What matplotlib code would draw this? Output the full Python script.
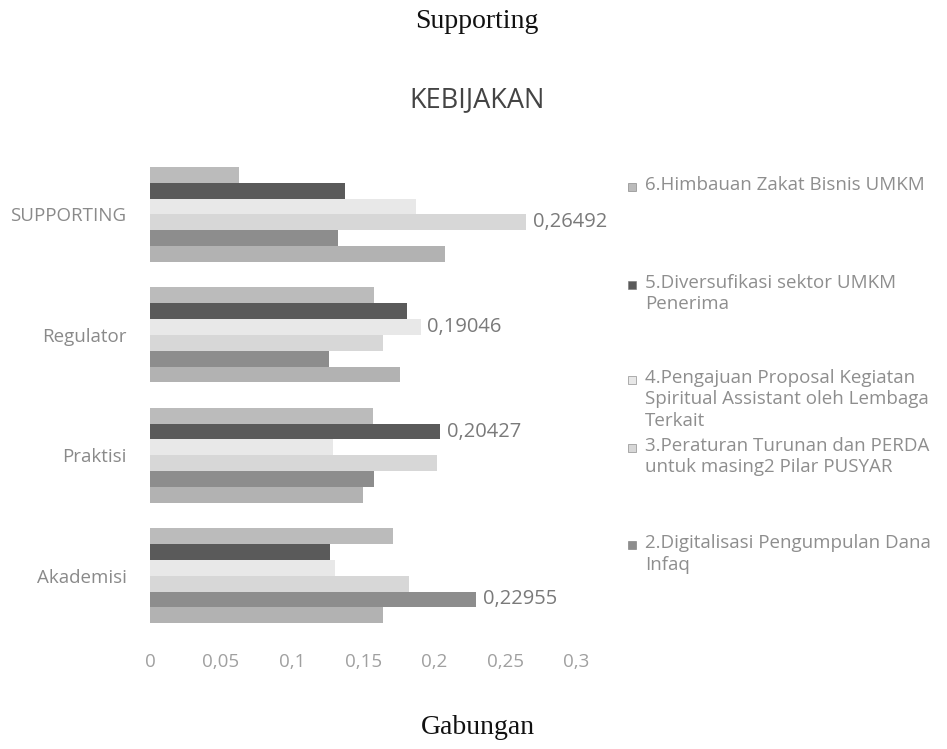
#!/usr/bin/env python3
"""Grouped horizontal bar chart of KEBIJAKAN scores per stakeholder group."""
import numpy as np
import matplotlib
matplotlib.use("Agg")
import matplotlib.pyplot as plt
from matplotlib.patches import Rectangle

# stakeholder groups, bottom to top
categories = ["Akademisi", "Praktisi", "Regulator", "SUPPORTING"]

# one list per policy item, values in category order
s1 = [0.164, 0.150, 0.176, 0.208]
s2 = [0.22955, 0.158, 0.126, 0.132]
s3 = [0.182, 0.202, 0.164, 0.26492]
s4 = [0.130, 0.129, 0.19046, 0.187]
s5 = [0.127, 0.20427, 0.181, 0.137]
s6 = [0.171, 0.157, 0.158, 0.063]
series = [s1, s2, s3, s4, s5, s6]

legend_labels = [
    "6.Himbauan Zakat Bisnis UMKM",
    "5.Diversufikasi sektor UMKM\nPenerima",
    "4.Pengajuan Proposal Kegiatan\nSpiritual Assistant oleh Lembaga\nTerkait",
    "3.Peraturan Turunan dan PERDA\nuntuk masing2 Pilar PUSYAR",
    "2.Digitalisasi Pengumpulan Dana\nInfaq",
]

xticks = [0, 0.05, 0.1, 0.15, 0.2, 0.25, 0.3]

colors = ["#b2b2b2", "#8d8d8d", "#d7d7d7", "#e8e8e8", "#5a5a5a", "#bbbbbb"]
SANS = "Open Sans"
SERIF = "Liberation Serif"


def comma(v):
    s = f"{v:.5f}".rstrip("0").rstrip(".")
    return s.replace(".", ",")


fig = plt.figure(figsize=(9.47, 7.49), dpi=100)
ax = fig.add_axes([0.1584, 0.151, 0.45, 0.643])

y = np.arange(len(categories))
h = 0.79 / len(series)
for k, (vals, c) in enumerate(zip(series, colors)):
    off = (k - (len(series) - 1) / 2) * h
    ax.barh(y + off, vals, height=h, color=c, edgecolor="none")

# value label on the longest bar of each group
data = np.array(series)
for i in range(len(categories)):
    k = int(np.argmax(data[:, i]))
    v = data[k, i]
    off = (k - (len(series) - 1) / 2) * h
    ax.annotate(comma(v), (v, y[i] + off), xytext=(5, 0), textcoords="offset points",
                va="center", ha="left", fontsize=14.5, color="#7a7a7a", family=SANS)

ax.set_xlim(0, 0.3)
ax.set_ylim(-0.5, len(categories) - 0.5)
ax.set_yticks(y)
ax.set_yticklabels(categories, family=SANS, fontsize=13.5, color="#8a8a8a")
ax.set_xticks(xticks)
ax.set_xticklabels([comma(t) for t in xticks], family=SANS, fontsize=13.5, color="#a0a0a0")
ax.tick_params(length=0)
ax.tick_params(axis="y", pad=17)
ax.tick_params(axis="x", pad=12)
for sp in ax.spines.values():
    sp.set_visible(False)

# legend drawn by hand, entries 6 down to 2
W, H = 947.0, 749.0
legend_y = [187, 285, 380, 448, 545]
for lab, ly, c in zip(legend_labels, legend_y, colors[::-1]):
    fig.patches.append(Rectangle((628 / W, 1 - (ly + 4) / H), 8 / W, 8 / H,
                                 transform=fig.transFigure, facecolor=c, edgecolor="#777777",
                                 linewidth=0.4))
    fig.text(645 / W, 1 - (ly - 11) / H, lab, ha="left", va="top", family=SANS,
             fontsize=13.5, color="#8e8e8e", linespacing=1.25)

fig.text(477 / W, 1 - 22 / H, "Supporting", ha="center", va="center", family=SERIF,
         fontsize=20, color="#111111")
fig.text(477 / W, 1 - 100 / H, "KEBIJAKAN", ha="center", va="center", family=SANS,
         fontsize=19.5, color="#444444")
fig.text(478 / W, 1 - 728 / H, "Gabungan", ha="center", va="center", family=SERIF,
         fontsize=20, color="#111111")

fig.savefig("out.png", dpi=100, facecolor="white")
